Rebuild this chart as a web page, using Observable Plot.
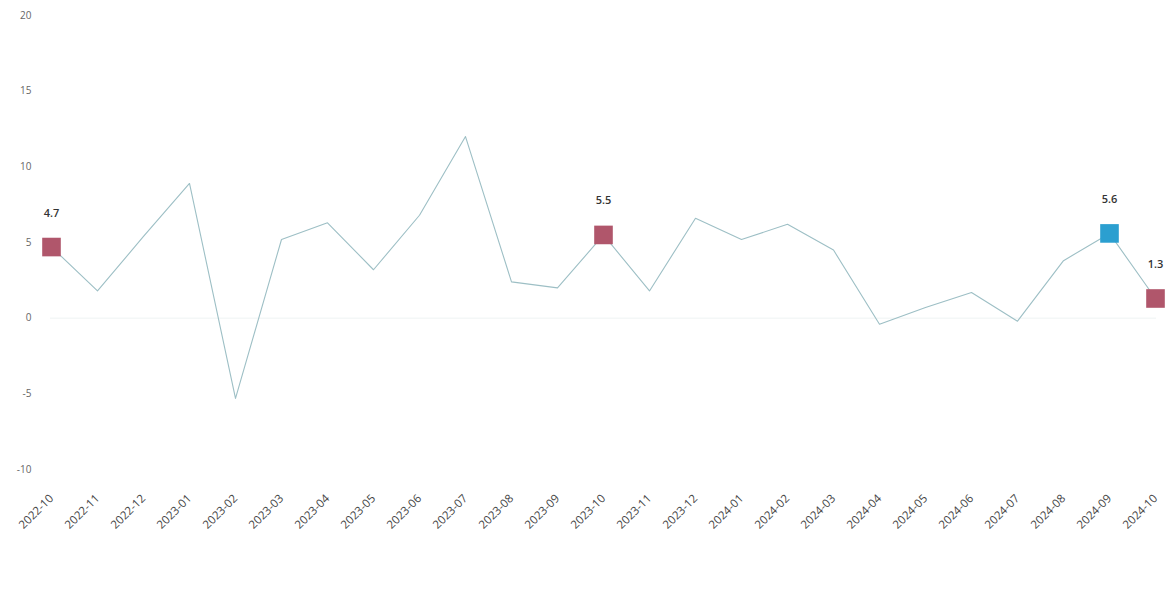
<!DOCTYPE html>
<html>
<head>
<meta charset="utf-8">
<script src="https://cdn.jsdelivr.net/npm/d3@7"></script>
<script src="https://cdn.jsdelivr.net/npm/@observablehq/plot@0.6"></script>
<style>
  html, body { margin: 0; padding: 0; background: #fff; }
  #chart { width: 1172px; height: 605px; overflow: hidden; }
</style>
</head>
<body>
<div id="chart"></div>
<script>
const months = ["2022-10","2022-11","2022-12","2023-01","2023-02","2023-03","2023-04","2023-05","2023-06","2023-07","2023-08","2023-09","2023-10","2023-11","2023-12","2024-01","2024-02","2024-03","2024-04","2024-05","2024-06","2024-07","2024-08","2024-09","2024-10"];
const values = [4.7, 1.8, 5.4, 8.9, -5.3, 5.2, 6.3, 3.2, 6.8, 12.0, 2.4, 2.0, 5.5, 1.8, 6.6, 5.2, 6.2, 4.5, -0.4, 0.7, 1.7, -0.2, 3.8, 5.6, 1.3];
const highlighted = ["2022-10", "2023-10", "2024-09", "2024-10"];
const highlightKind = ["marked", "marked", "latest", "marked"];
const yTicks = [-10, -5, 0, 5, 10, 15, 20];

const data = months.map((m, i) => ({month: m, value: values[i]}));
const marks = highlighted.map((m, i) => ({month: m, value: values[months.indexOf(m)], kind: highlightKind[i]}));

const chart = Plot.plot({
  width: 1172,
  height: 605,
  marginTop: 15,
  marginBottom: 136,
  marginLeft: 50,
  marginRight: 16,
  style: {fontFamily: "'Open Sans', 'DejaVu Sans', sans-serif", fontSize: "10px", color: "#555", background: "#fff"},
  x: {type: "point", domain: months, padding: 0, label: null},
  y: {domain: [-10, 20], ticks: yTicks, label: null},
  color: {domain: ["marked", "latest"], range: ["#b0566b", "#2b9fd0"]},
  marks: [
    Plot.ruleY([0], {stroke: "#eef3f3", strokeWidth: 1}),
    Plot.axisY({ticks: yTicks, tickSize: 0, tickPadding: 19, tickFormat: d => String(d), fill: "#666", fontSize: 10}),
    Plot.axisX({tickSize: 0, tickRotate: -45, tickPadding: 27, fill: "#444", fontSize: 11.5}),
    Plot.line(data, {x: "month", y: "value", stroke: "#9dbfc5", strokeWidth: 1.1}),
    Plot.dot(marks, {x: "month", y: "value", symbol: "square", r: 10.5, fill: "kind", stroke: "none"}),
    Plot.text(marks, {x: "month", y: "value", text: d => d.value.toFixed(1), dy: -34, fill: "#333", fontSize: 11, fontWeight: 600})
  ]
});
document.getElementById("chart").appendChild(chart);
</script>
</body>
</html>
